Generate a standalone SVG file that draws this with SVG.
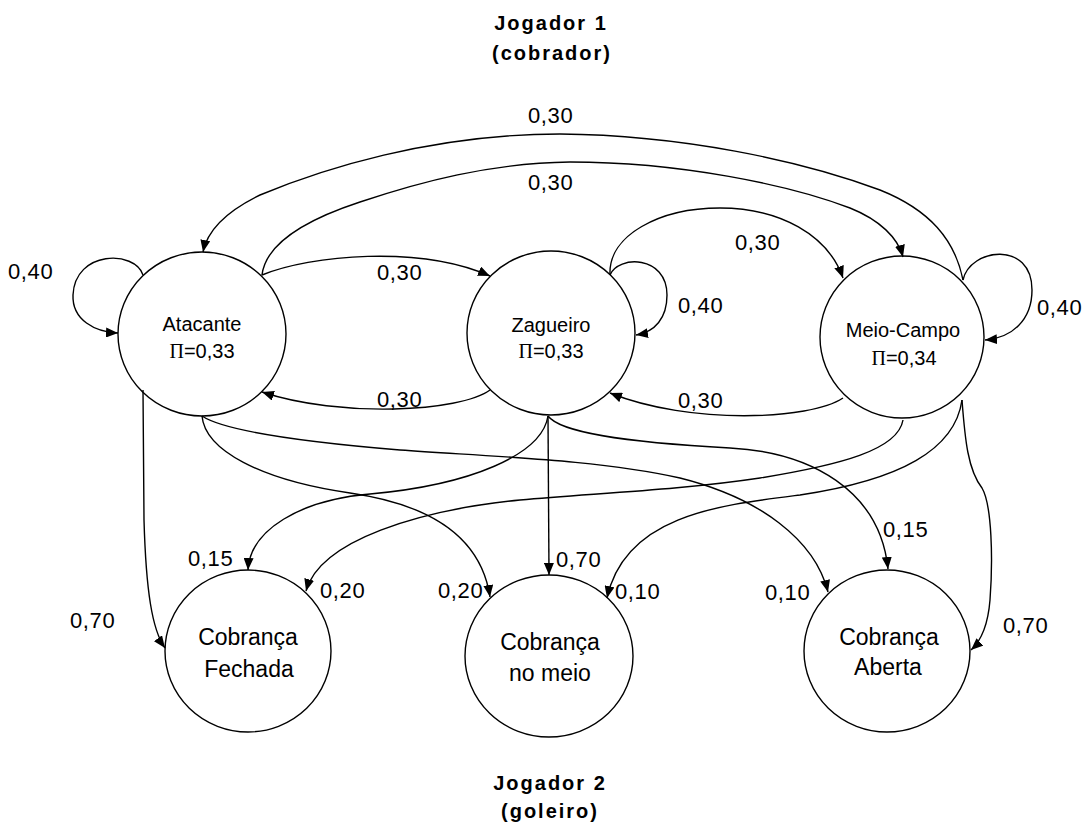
<svg xmlns="http://www.w3.org/2000/svg" width="1090" height="830" viewBox="0 0 1090 830">
<style>
.node{fill:#fff;stroke:#000;stroke-width:1.4}
.edge{fill:none;stroke:#000;stroke-width:1.4;marker-end:url(#arr)}
.lbl{font-family:"Liberation Sans",Arial,sans-serif;font-size:22px;letter-spacing:0.6px;fill:#000}
.nl{font-family:"Liberation Sans",Arial,sans-serif;font-size:20px;fill:#000;text-anchor:middle}
.bl{font-family:"Liberation Sans",Arial,sans-serif;font-size:23px;fill:#000;text-anchor:middle}
.pi{font-family:"Liberation Serif","Times New Roman",serif}
.title{font-family:"Liberation Sans",Arial,sans-serif;font-size:20px;font-weight:bold;letter-spacing:2px;fill:#000;text-anchor:middle}
</style>
<defs>
<marker id="arr" markerUnits="userSpaceOnUse" markerWidth="12" markerHeight="10" viewBox="0 0 12 10" refX="12" refY="5" orient="auto">
<path d="M0,0 L12,5 L0,10 z" fill="#000"/>
</marker>
</defs>
<rect width="1090" height="830" fill="#fff"/>

<g id="titles">
<text class="title" x="551" y="30">Jogador 1</text>
<text class="title" x="552" y="60">(cobrador)</text>
<text class="title" x="550" y="790">Jogador 2</text>
<text class="title" x="550" y="818">(goleiro)</text>
</g>

<g id="node-atacante">
<ellipse class="node" cx="202" cy="334" rx="84" ry="82"/>
<text class="nl" x="202" y="331">Atacante</text>
<text class="nl" x="202" y="358"><tspan class="pi">Π</tspan>=0,33</text>
</g>
<g id="node-zagueiro">
<ellipse class="node" cx="551" cy="333" rx="84" ry="82"/>
<text class="nl" x="551" y="332">Zagueiro</text>
<text class="nl" x="551" y="358"><tspan class="pi">Π</tspan>=0,33</text>
</g>
<g id="node-meiocampo">
<ellipse class="node" cx="902" cy="337" rx="82" ry="81"/>
<text class="nl" x="903" y="337">Meio-Campo</text>
<text class="nl" x="904" y="365"><tspan class="pi">Π</tspan>=0,34</text>
</g>
<g id="node-fechada">
<ellipse class="node" cx="248" cy="651" rx="83" ry="81"/>
<text class="bl" x="248" y="645">Cobrança</text>
<text class="bl" x="249" y="677">Fechada</text>
</g>
<g id="node-nomeio">
<ellipse class="node" cx="549" cy="656" rx="84" ry="81"/>
<text class="bl" x="550" y="650">Cobrança</text>
<text class="bl" x="550" y="681">no meio</text>
</g>
<g id="node-aberta">
<ellipse class="node" cx="887" cy="651" rx="83" ry="81"/>
<text class="bl" x="889" y="645">Cobrança</text>
<text class="bl" x="888" y="675">Aberta</text>
</g>

<g id="connectors">
<path class="edge" d="M143,275 C135,250 75,250 73,295 C72,320 95,332 118,333"/>
<path class="edge" d="M963,280 C955,240 930,210 880,190 C800,160 680,135 560,134 C430,134 320,170 260,195 C225,212 207,232 203,252"/>
<path class="edge" d="M262,275 C265,250 290,225 360,202 C420,182 490,163 570,162 C680,162 790,185 850,208 C880,220 898,238 903,257"/>
<path class="edge" d="M262,275 C310,255 420,245 490,276"/>
<path class="edge" d="M490,390 C460,412 340,418 262,392"/>
<path class="edge" d="M610,275 C618,255 667,255 667,295 C667,318 655,332 636,335"/>
<path class="edge" d="M610,275 C608,235 660,208 720,208 C780,208 828,235 843,278"/>
<path class="edge" d="M963,280 C970,248 1032,240 1032,290 C1032,320 1012,338 985,340"/>
<path class="edge" d="M843,398 C810,420 690,425 610,393"/>
<path class="edge" d="M143,390 L144,520 C146,590 152,630 165,648"/>
<path class="edge" d="M202,416 C205,450 260,480 350,493 C420,503 480,530 490,597"/>
<path class="edge" d="M202,416 C220,428 280,440 400,450 C500,457 600,460 680,478 C760,498 815,540 828,592"/>
<path class="edge" d="M548,416 L549,575"/>
<path class="edge" d="M548,416 C542,455 470,485 370,494 C300,500 250,530 248,570"/>
<path class="edge" d="M548,416 C560,432 620,442 730,448 C810,452 880,490 888,569"/>
<path class="edge" d="M903,420 C898,450 840,465 760,478 C680,490 600,493 520,500 C420,510 320,540 306,591"/>
<path class="edge" d="M962,400 C955,450 900,480 800,495 C720,505 625,515 607,598"/>
<path class="edge" d="M962,400 C965,440 968,470 982,488 C992,505 993,560 990,600 C988,625 982,640 971,650"/>
</g>

<g id="edge-labels">
<text class="lbl" x="528" y="123">0,30</text>
<text class="lbl" x="528" y="190">0,30</text>
<text class="lbl" x="8" y="279">0,40</text>
<text class="lbl" x="377" y="280">0,30</text>
<text class="lbl" x="377" y="407">0,30</text>
<text class="lbl" x="678" y="313">0,40</text>
<text class="lbl" x="735" y="250">0,30</text>
<text class="lbl" x="1037" y="315">0,40</text>
<text class="lbl" x="678" y="408">0,30</text>
<text class="lbl" x="70" y="628">0,70</text>
<text class="lbl" x="188" y="566">0,15</text>
<text class="lbl" x="320" y="598">0,20</text>
<text class="lbl" x="438" y="598">0,20</text>
<text class="lbl" x="556" y="567">0,70</text>
<text class="lbl" x="615" y="599">0,10</text>
<text class="lbl" x="765" y="600">0,10</text>
<text class="lbl" x="883" y="537">0,15</text>
<text class="lbl" x="1003" y="633">0,70</text>
</g>
</svg>
